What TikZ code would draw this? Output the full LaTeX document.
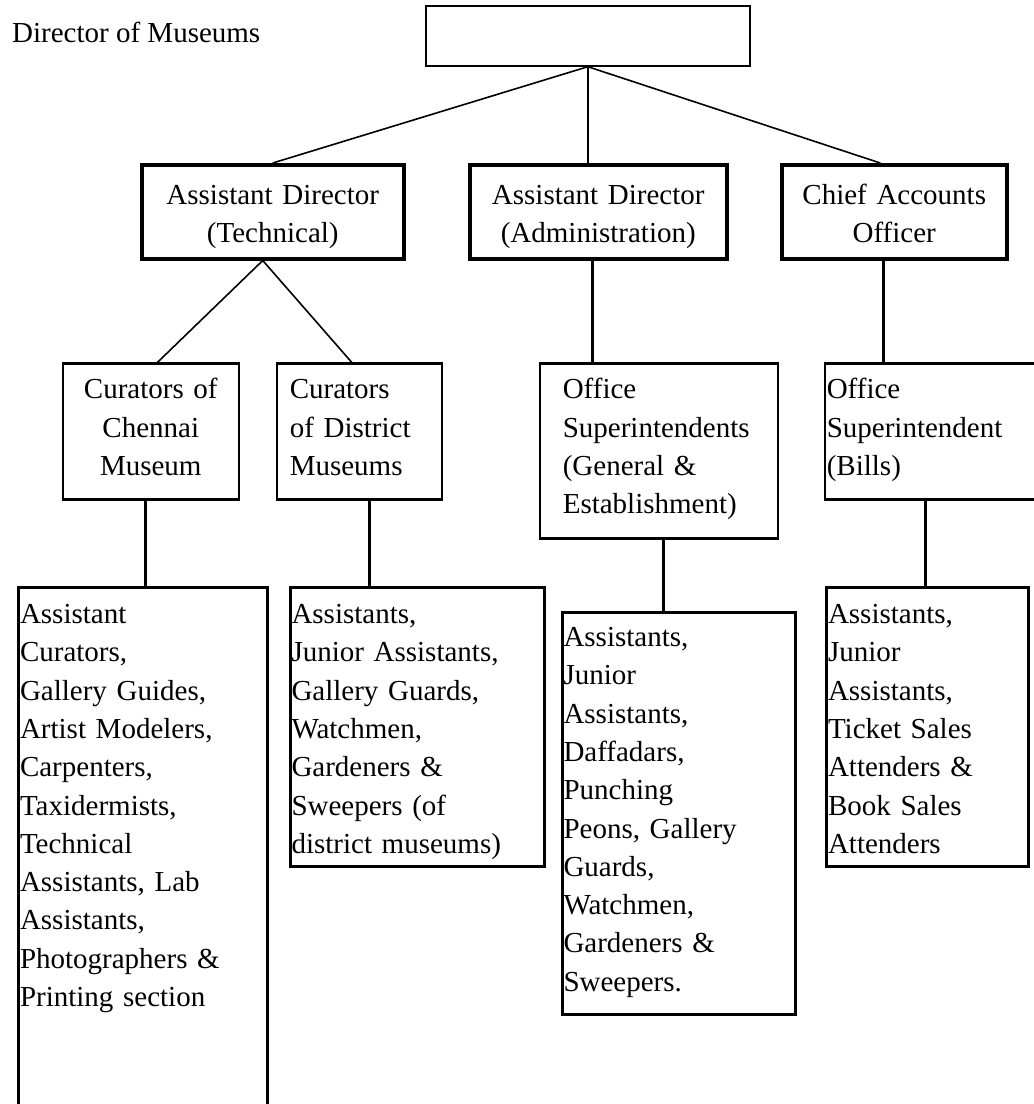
\documentclass[tikz,border=0pt]{standalone}
\usepackage{fontspec}
\setmainfont{Liberation Serif}
\usepackage{tikz}

\begin{document}
\begin{tikzpicture}[x=1pt, y=-1pt,
  every node/.style={inner sep=0pt, font=\fontsize{29}{38.3}\selectfont},
  head/.style={draw, line width=3.5pt, anchor=north west, align=center, text height=39.5pt, text depth=54.5pt},
  unit/.style={draw, line width=1.6pt, anchor=north west, text height=35pt, text depth=100pt},
  staff/.style={draw, line width=3pt, anchor=north west, align=left},
  link/.style={line width=1.6pt},
  spine/.style={line width=3pt}]
\useasboundingbox (0,0) rectangle (1034,1104);
\clip (0,0) rectangle (1034,1104);
\fill[white] (0,0) rectangle (1034,1104);
% top
\node[draw, line width=1.7pt, anchor=north west, minimum width=324pt, minimum height=60pt] (dir) at (425,5) {};
\node[anchor=base west] (dirlabel) at (12,42) {Director of Museums};
% second row
\node[head, text width=262pt] (adt) at (140,163) {Assistant Director\\(Technical)};
\node[head, text width=257pt] (ada) at (468,163) {Assistant Director\\(Administration)};
\node[head, text width=225pt] (cao) at (780,163) {Chief Accounts\\Officer};
% third row
\node[unit, align=center, text width=176pt] (cch) at (62,363) {Curators of\\Chennai\\Museum};
\node[unit, align=left, inner xsep=13pt, text width=139pt] (cdi) at (276,363) {Curators\\of District\\Museums};
\node[unit, align=left, inner xsep=23pt, text width=192pt, text depth=139pt] (osu) at (539,363) {Office\\Superintendents\\(General \&\\Establishment)};
\node[unit, align=left, inner xsep=2pt, text width=212pt] (osb) at (824,363) {Office\\Superintendent\\(Bills)};
\foreach \n in {cch,cdi,osu,osb}
  \draw[spine] (\n.north west) -- (\n.north east) (\n.south west) -- (\n.south east);
% staff
\node[staff, inner xsep=1.5pt, text width=246pt, text height=36pt, text depth=498pt] (sch) at (17,586) {Assistant\\Curators,\\Gallery Guides,\\Artist Modelers,\\Carpenters,\\Taxidermists,\\Technical\\Assistants, Lab\\Assistants,\\Photographers \&\\Printing section};
\node[staff, inner xsep=1pt, text width=252pt, text height=36pt, text depth=243pt] (sdi) at (289,586) {Assistants,\\Junior Assistants,\\Gallery Guards,\\Watchmen,\\Gardeners \&\\Sweepers (of\\district museums)};
\node[staff, inner xsep=1pt, text width=231pt, text height=34pt, text depth=368pt] (sos) at (561,611) {Assistants,\\Junior\\Assistants,\\Daffadars,\\Punching\\Peons, Gallery\\Guards,\\Watchmen,\\Gardeners \&\\Sweepers.};
\node[staff, inner xsep=1.5pt, text width=199pt, text height=36pt, text depth=243pt] (sbi) at (825,586) {Assistants,\\Junior\\Assistants,\\Ticket Sales\\Attenders \&\\Book Sales\\Attenders};
% links
\draw[link] (dir.south) -- (adt.north);
\draw[link] (dir.south) -- (dir.south |- ada.north);
\draw[link] (dir.south) -- ([xshift=-14pt]cao.north);
\coordinate (fork) at ([xshift=-10pt]adt.south);
\draw[link] ([xshift=6pt]cch.north) -- (fork) -- ([xshift=-7pt]cdi.north);
\draw[spine] ([xshift=-6pt]ada.south) -- ([xshift=-6pt]ada.south |- osu.north);
\draw[spine] ([xshift=-11pt]cao.south) -- ([xshift=-11pt]cao.south |- osb.north);
\draw[spine] ([xshift=-5pt]cch.south) -- ([xshift=-5pt]cch.south |- sch.north);
\draw[spine] ([xshift=10pt]cdi.south) -- ([xshift=10pt]cdi.south |- sdi.north);
\draw[spine] ([xshift=5pt]osu.south) -- ([xshift=5pt]osu.south |- sos.north);
\draw[spine] ([xshift=-7pt]osb.south) -- ([xshift=-7pt]osb.south |- sbi.north);
\end{tikzpicture}
\end{document}
